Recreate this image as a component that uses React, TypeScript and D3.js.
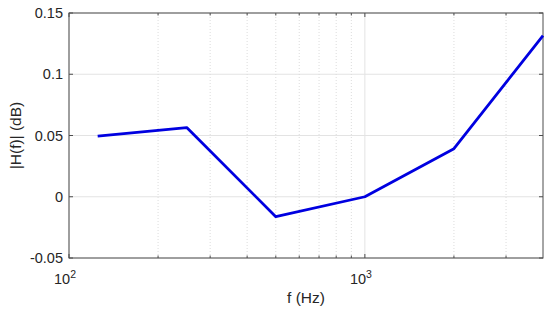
import { useEffect, useRef } from "react";
import * as d3 from "d3";

const freqs = [125, 250, 500, 1000, 2000, 4000];
const gains = [0.0495, 0.0565, -0.0163, 0.0, 0.0392, 0.1315];
const yTicks = [-0.05, 0, 0.05, 0.1, 0.15];
const yTickLabels = ["-0.05", "0", "0.05", "0.1", "0.15"];
const majorX = [100, 1000];
const minorX = [200, 300, 400, 500, 600, 700, 800, 900, 2000, 3000];

export default function App() {
  const svgRef = useRef<SVGSVGElement>(null);

  const width = 550;
  const height = 314;
  const margin = { left: 69, right: 7, top: 13, bottom: 56 };

  useEffect(() => {
    const svg = d3.select(svgRef.current);
    svg.selectAll("*").remove();

    const x = d3.scaleLog().domain([100, 4000]).range([margin.left, width - margin.right]);
    const y = d3.scaleLinear().domain([-0.05, 0.15]).range([height - margin.bottom, margin.top]);

    const font = "Helvetica, Arial, 'Liberation Sans', sans-serif";
    const x0 = margin.left, x1 = width - margin.right;
    const y0 = height - margin.bottom, y1 = margin.top;

    const g = svg.append("g");

    // grid
    g.selectAll("line.ygrid")
      .data(yTicks)
      .join("line")
      .attr("x1", x0).attr("x2", x1)
      .attr("y1", d => y(d)).attr("y2", d => y(d))
      .attr("stroke", "#e3e3e3").attr("stroke-width", 1);

    g.selectAll("line.xmaj")
      .data(majorX)
      .join("line")
      .attr("x1", d => x(d)).attr("x2", d => x(d))
      .attr("y1", y0).attr("y2", y1)
      .attr("stroke", "#e3e3e3").attr("stroke-width", 1);

    g.selectAll("line.xmin")
      .data(minorX)
      .join("line")
      .attr("x1", d => x(d)).attr("x2", d => x(d))
      .attr("y1", y0).attr("y2", y1)
      .attr("stroke", "#dcdcdc").attr("stroke-width", 1)
      .attr("stroke-dasharray", "1,2");

    // box
    g.append("rect")
      .attr("x", x0).attr("y", y1)
      .attr("width", x1 - x0).attr("height", y0 - y1)
      .attr("fill", "none").attr("stroke", "#4d4d4d").attr("stroke-width", 1);

    // ticks (inward on all sides)
    const tl = 4;
    yTicks.forEach(t => {
      g.append("line").attr("x1", x0).attr("x2", x0 + tl).attr("y1", y(t)).attr("y2", y(t)).attr("stroke", "#4d4d4d");
      g.append("line").attr("x1", x1).attr("x2", x1 - tl).attr("y1", y(t)).attr("y2", y(t)).attr("stroke", "#4d4d4d");
    });
    majorX.concat(minorX).forEach(t => {
      const len = majorX.includes(t) ? tl : 2.5;
      g.append("line").attr("x1", x(t)).attr("x2", x(t)).attr("y1", y0).attr("y2", y0 - len).attr("stroke", "#4d4d4d");
      g.append("line").attr("x1", x(t)).attr("x2", x(t)).attr("y1", y1).attr("y2", y1 + len).attr("stroke", "#4d4d4d");
    });

    // y tick labels
    g.selectAll("text.ylab")
      .data(yTicks)
      .join("text")
      .attr("x", x0 - 6)
      .attr("y", d => y(d) + 5)
      .attr("text-anchor", "end")
      .attr("font-family", font)
      .attr("font-size", 14.5)
      .attr("fill", "#262626")
      .text((d, i) => yTickLabels[i]);

    // x tick labels 10^n
    majorX.forEach(t => {
      const txt = g.append("text")
        .attr("x", x(t) - 4)
        .attr("y", y0 + 26)
        .attr("text-anchor", "middle")
        .attr("font-family", font)
        .attr("font-size", 14.5)
        .attr("fill", "#262626");
      txt.append("tspan").text("10");
      txt.append("tspan").attr("dy", -6).attr("font-size", 10.5).text(String(Math.round(Math.log10(t))));
    });

    // axis labels
    g.append("text")
      .attr("x", (x0 + x1) / 2)
      .attr("y", 303)
      .attr("text-anchor", "middle")
      .attr("font-family", font)
      .attr("font-size", 15.5)
      .attr("fill", "#262626")
      .text("f (Hz)");

    g.append("text")
      .attr("transform", `translate(21, ${(y0 + y1) / 2}) rotate(-90)`)
      .attr("text-anchor", "middle")
      .attr("font-family", font)
      .attr("font-size", 15.5)
      .attr("fill", "#262626")
      .text("|H(f)| (dB)");

    // data line
    const line = d3.line<number>()
      .x((d, i) => x(freqs[i]))
      .y(d => y(d));

    g.append("path")
      .datum(gains)
      .attr("fill", "none")
      .attr("stroke", "#0000e0")
      .attr("stroke-width", 2.8)
      .attr("stroke-linejoin", "round")
      .attr("d", line);
  }, []);

  return (
    <div style={{ position: "absolute", left: 0, top: 0 }}>
      <svg ref={svgRef} width={width} height={height} style={{ display: "block", background: "#fff" }} />
    </div>
  );
}
